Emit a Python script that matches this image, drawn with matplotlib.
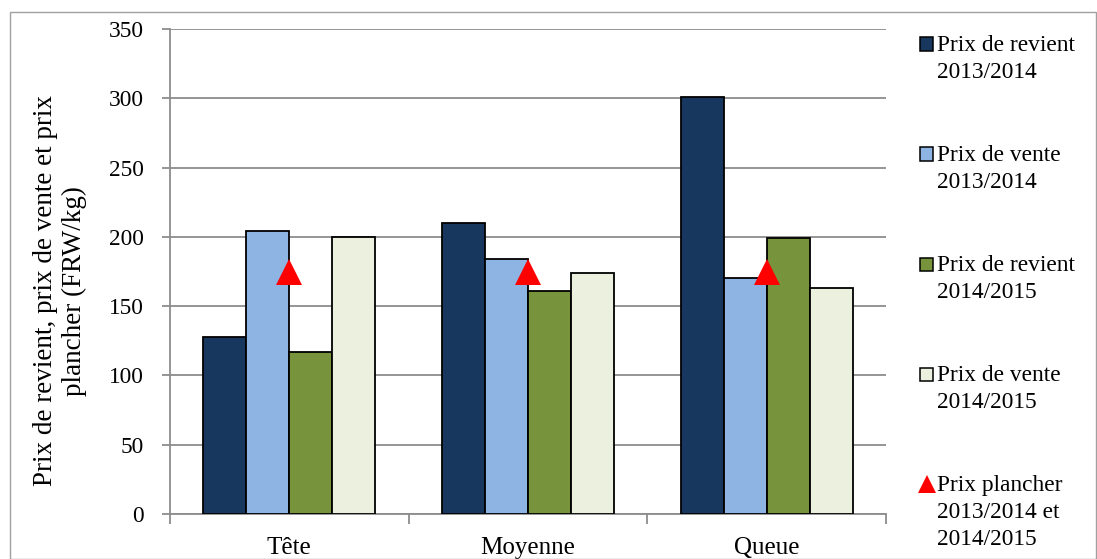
import matplotlib
matplotlib.use("Agg")
import matplotlib.pyplot as plt
import numpy as np
from matplotlib.patches import Rectangle
from matplotlib.lines import Line2D

categories = ["Tête", "Moyenne", "Queue"]
series_names = ["Prix de revient\n2013/2014", "Prix de vente\n2013/2014",
                "Prix de revient\n2014/2015", "Prix de vente\n2014/2015"]
revient_1314 = [128, 210, 301]
vente_1314 = [204, 184, 170]
revient_1415 = [117, 161, 199]
vente_1415 = [200, 174, 163]
plancher = [175, 175, 175]
plancher_name = "Prix plancher\n2013/2014 et\n2014/2015"
yticks = [0, 50, 100, 150, 200, 250, 300, 350]

colors = ["#17375E", "#8EB4E3", "#77933C", "#EBF1DE"]

plt.rcParams['font.family'] = ['Liberation Serif', 'DejaVu Serif']
FS = 16.8

W, H = 1097, 559
fig = plt.figure(figsize=(W / 100, H / 100), dpi=100)
ax = fig.add_axes([170 / W, 1 - 514 / H, (886 - 170) / W, (514 - 29) / H])

x = np.arange(len(categories))
bw = 0.18
all_series = [revient_1314, vente_1314, revient_1415, vente_1415]
for i, (vals, c) in enumerate(zip(all_series, colors)):
    ax.bar(x + (i - 1.5) * bw, vals, width=bw, color=c, edgecolor="black",
           linewidth=1.3, zorder=3)
ax.plot(x, plancher, linestyle="none", marker="^", markersize=19,
        color="#FF0000", markeredgewidth=0, zorder=4)

ax.set_xlim(-0.5, len(categories) - 0.5)
ax.set_ylim(0, 350)
ax.set_yticks(yticks)
ax.set_yticklabels([str(v) for v in yticks], fontsize=FS)
ax.yaxis.grid(True, color="#8C8C8C", linewidth=1.3, zorder=0)
ax.set_axisbelow(True)

ax.set_xticks(np.arange(len(categories) + 1) - 0.5)
ax.set_xticklabels([])
ax.tick_params(axis="x", length=7, color="#8C8C8C", width=1.3)
ax.tick_params(axis="y", length=5.5, color="#8C8C8C", width=1.3, pad=13.5)
for xi, lab in zip(x, categories):
    ax.text(xi, -0.07, lab, transform=ax.get_xaxis_transform(),
            ha="center", va="center", fontsize=18)

for s in ["top", "right"]:
    ax.spines[s].set_visible(False)
for s in ["left", "bottom"]:
    ax.spines[s].set_color("#8C8C8C")
    ax.spines[s].set_linewidth(1.3)

fig.text(60 / W, 1 - 291 / H, "Prix de revient, prix de vente et prix\nplancher (FRW/kg)",
         rotation=90, ha="center", va="center", fontsize=19.5, linespacing=1.15)

# Legend (manual)
leg_y = [45, 155, 265, 375, 485]
labels = series_names + [plancher_name]
for i, lab in enumerate(labels):
    yc = 1 - (leg_y[i] - 1) / H
    if i < 4:
        fig.patches.append(Rectangle((920 / W, yc - 6.5 / H), 13 / W, 13 / H,
                                     transform=fig.transFigure, facecolor=colors[i],
                                     edgecolor="black", linewidth=1.1))
    else:
        fig.lines.append(Line2D([927 / W], [yc], transform=fig.transFigure, marker="^",
                                markersize=13, color="#FF0000", markeredgewidth=0,
                                linestyle="none"))
    for k, line in enumerate(lab.split("\n")):
        fig.text(937 / W, 1 - (leg_y[i] + 6 + 27 * k) / H, line, ha="left",
                 va="baseline", fontsize=FS)

# outer border
fig.patches.append(Rectangle((10 / W, 0), (W - 11) / W, 1 - 12 / H,
                             transform=fig.transFigure, fill=False,
                             edgecolor="#A0A0A0", linewidth=1.0))

fig.savefig("out.png", dpi=100)
